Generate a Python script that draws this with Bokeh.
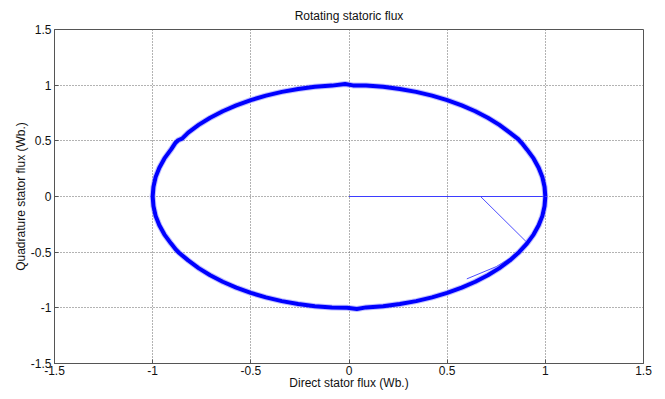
from bokeh.plotting import figure
from bokeh.embed import file_html
from bokeh.resources import INLINE
from bokeh.models import FixedTicker, Range1d

# Tick values and labels
x_ticks = [-1.5, -1, -0.5, 0, 0.5, 1, 1.5]
x_tick_labels = ["-1.5", "-1", "-0.5", "0", "0.5", "1", "1.5"]
y_ticks = [-1.5, -1, -0.5, 0, 0.5, 1, 1.5]
y_tick_labels = ["-1.5", "-1", "-0.5", "0", "0.5", "1", "1.5"]

# Steady-state flux locus, counter-clockwise from (1, 0)
flux_d = [1.000, 0.996, 0.985, 0.966, 0.940, 0.906, 0.885, 0.872, 0.862, 0.819, 0.766, 0.707,
          0.643, 0.574, 0.500, 0.423, 0.342, 0.259, 0.174, 0.087, 0.020, -0.020, -0.087,
          -0.174, -0.259, -0.342, -0.423, -0.500, -0.574, -0.643, -0.707, -0.766, -0.819,
          -0.850, -0.870, -0.885, -0.906, -0.940, -0.966, -0.985, -0.996, -1.000,
          -0.996, -0.985, -0.966, -0.940, -0.906, -0.880, -0.866, -0.819, -0.766, -0.707,
          -0.643, -0.574, -0.500, -0.423, -0.342, -0.259, -0.174, -0.087, -0.010, 0.040,
          0.087, 0.174, 0.259, 0.342, 0.423, 0.500, 0.574, 0.643, 0.707, 0.766, 0.819,
          0.866, 0.906, 0.940, 0.966, 0.985, 0.996, 1.000]
flux_q = [0.000, 0.087, 0.174, 0.259, 0.342, 0.423, 0.470, 0.495, 0.515, 0.574, 0.643, 0.707,
          0.766, 0.819, 0.866, 0.906, 0.940, 0.966, 0.985, 0.996, 0.998, 1.010, 0.996,
          0.985, 0.966, 0.940, 0.906, 0.866, 0.819, 0.766, 0.707, 0.643, 0.574,
          0.520, 0.505, 0.480, 0.423, 0.342, 0.259, 0.174, 0.087, 0.000,
          -0.087, -0.174, -0.259, -0.342, -0.423, -0.480, -0.505, -0.574, -0.643, -0.707,
          -0.766, -0.819, -0.866, -0.906, -0.940, -0.966, -0.985, -0.996, -1.000, -1.010,
          -0.996, -0.985, -0.966, -0.940, -0.906, -0.866, -0.819, -0.766, -0.707, -0.643, -0.574,
          -0.500, -0.423, -0.342, -0.259, -0.174, -0.087, 0.000]

# Start-up transient traces
trans1_d = [0.0, 1.0]
trans1_q = [0.0, 0.0]
trans2_d = [0.67, 0.905, 0.88, 0.75, 0.60]
trans2_q = [0.0, -0.41, -0.49, -0.63, -0.74]

p = figure(width=657, height=398, output_backend="svg", toolbar_location=None,
           x_range=Range1d(-1.5, 1.5), y_range=Range1d(-1.5, 1.5),
           min_border_left=54, min_border_right=14, min_border_top=29, min_border_bottom=35,
           title="Rotating statoric flux")

p.title.align = "center"
p.title.text_font = "Liberation Sans"
p.title.text_font_size = "12px"
p.title.text_font_style = "normal"
p.title.text_color = "#111111"
p.title.standoff = 13
p.title.offset = 0

p.outline_line_color = "#555555"
p.outline_line_width = 1
p.background_fill_color = "white"
p.border_fill_color = "white"

for ax, ticks, labels in ((p.xaxis, x_ticks, x_tick_labels), (p.yaxis, y_ticks, y_tick_labels)):
    ax.ticker = FixedTicker(ticks=ticks)
    ax.major_label_overrides = {t: l for t, l in zip(ticks, labels)}
    ax.minor_tick_line_color = None
    ax.major_tick_in = 4
    ax.major_tick_out = 0
    ax.major_tick_line_color = "#555555"
    ax.axis_line_color = "#555555"
    ax.major_label_text_font = "Liberation Sans"
    ax.major_label_text_font_size = "12px"
    ax.major_label_text_color = "#111111"
    ax.major_label_standoff = 3
    ax.axis_label_text_font = "Liberation Sans"
    ax.axis_label_text_font_size = "12px"
    ax.axis_label_text_font_style = "normal"
    ax.axis_label_text_color = "#111111"
    ax.axis_label_standoff = 0

p.xaxis.axis_label = "Direct stator flux (Wb.)"
p.yaxis.axis_label = "Quadrature stator flux (Wb.)"
p.xaxis.major_label_standoff = 2
p.xaxis.axis_label_standoff = -2

p.xgrid.ticker = FixedTicker(ticks=x_ticks)
p.ygrid.ticker = FixedTicker(ticks=y_ticks)
for g in (p.xgrid, p.ygrid):
    g.grid_line_color = "#666666"
    g.grid_line_dash = "1 2"
    g.grid_line_width = 1
    g.grid_line_alpha = 1.0

p.line(trans1_d, trans1_q, line_color="#3d3dff", line_width=1.2)
p.line(trans2_d, trans2_q, line_color="#4d4dff", line_width=1)
p.line(flux_d, flux_q, line_color="#8080ff", line_width=6, line_alpha=0.5)
p.line(flux_d, flux_q, line_color="#0000ff", line_width=4)

open("out.html", "w").write(file_html(p, INLINE))
